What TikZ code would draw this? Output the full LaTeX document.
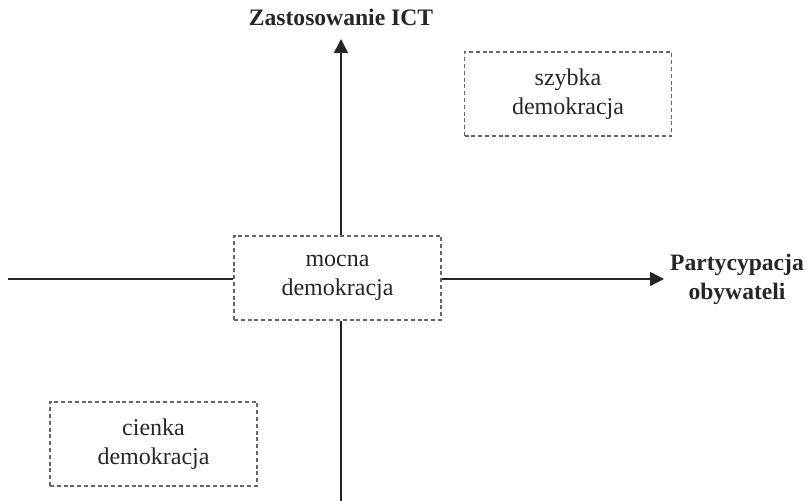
\documentclass[tikz,border=0pt]{standalone}
\usepackage{fontspec}
\setmainfont{Liberation Serif}
\usetikzlibrary{arrows.meta}
\begin{document}
\begin{tikzpicture}[x=0.5pt,y=-0.5pt,
  box/.style={draw=black!60, dash pattern=on 2pt off 1.4pt, line width=0.6pt,
    minimum width=103.5pt, minimum height=42pt, inner sep=0pt, align=center,
    font=\fontsize{12}{14.5}\selectfont, text=black!85},
  axis/.style={line width=0.75pt, black!85},
  axarrow/.style={axis, -{Triangle[length=7pt,width=7pt]}},
  lbl/.style={font=\bfseries\fontsize{11.8}{14.5}\selectfont, align=center, text=black!85}]
\useasboundingbox (0,0) rectangle (808,501);
\node[box] (c) at (337.5,278) {mocna\\demokracja};
\node[box] (s) at (568,94) {szybka\\demokracja};
\node[box] (t) at (153.5,444) {cienka\\demokracja};
\coordinate (top) at (341,39);
\coordinate (bot) at (341,503);
\coordinate (lft) at (8,279);
\coordinate (rgt) at (664,279);
\draw[axis] (bot) -- (bot |- c.south);
\draw[axarrow] (top |- c.north) -- (top);
\draw[axis] (lft) -- (lft -| c.west);
\draw[axarrow] (rgt -| c.east) -- (rgt);
\node[lbl] (ict) at (341,17) {Zastosowanie ICT};
\node[lbl] (par) at (737,279) {Partycypacja\\obywateli};
\end{tikzpicture}
\end{document}
